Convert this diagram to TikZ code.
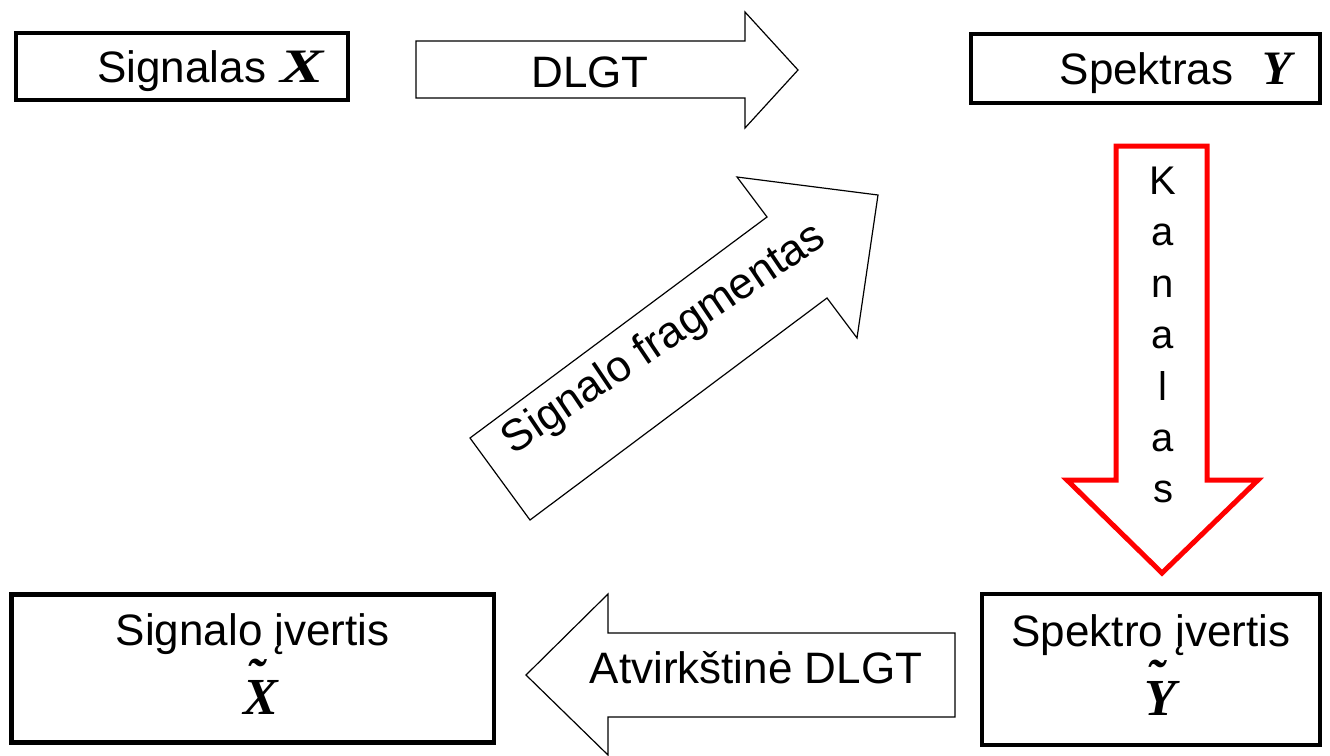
\documentclass[tikz,border=0pt]{standalone}
\usepackage{fontspec}
\setmainfont{Liberation Sans}
\newfontfamily\varfont{Liberation Serif}
\usepackage{graphicx}
\usepackage{tikz}

\newcommand\varletter[1]{{\varfont\bfseries\itshape #1}}
\newcommand\tildeletter[1]{\ooalign{#1\cr\hidewidth\kern-0.2em\raisebox{0.38em}{\char"02DC}\hidewidth\cr}}

\begin{document}
\begin{tikzpicture}[
        x=0.5pt, y=-0.5pt,
        block/.style={rectangle, draw, line width=2.4pt, inner sep=0pt, font=\fontsize{22}{34.5}\selectfont},
        block_arrow/.style={draw, line width=0.6pt, fill=white, line join=miter},
        channel_arrow/.style={draw=red, line width=2.5pt, fill=white, line join=miter},
        arrow_text/.style={inner sep=0pt, font=\fontsize{22}{26}\selectfont}
    ]
    \useasboundingbox (0,0) rectangle (1330,756);

    % Top row
    \node[block, minimum width=166pt, minimum height=33.5pt, text width=142pt, text height=15.8pt, text depth=0pt, align=right, inner xsep=12pt] (signal) at (182,66.5) {Signalas\ {\fontsize{24}{24}\selectfont\varletter{\scalebox{1.35}[1]{X}}}};
    \node[block, minimum width=174.5pt, minimum height=34.5pt, text width=146.5pt, text height=15.8pt, text depth=0pt, align=right, inner xsep=14pt] (spectrum) at (1145.5,68.5) {Spektras\ \ {\fontsize{24}{24}\selectfont\varletter{Y}}};

    % Bottom row
    \node[block, minimum width=241.25pt, minimum height=74pt, align=center] (signal_est) at (252.75,668.5) {Signalo įvertis\\ \kern8pt{\fontsize{26}{26}\selectfont\varletter{\tildeletter{X}}}\rule[-4.75pt]{0pt}{0pt}};
    \node[block, minimum width=169pt, minimum height=75.5pt, align=center] (spectrum_est) at (1151,669.5) {Spektro įvertis\\ \kern9pt{\fontsize{26}{26}\selectfont\varletter{\tildeletter{Y}}}\rule[-4.75pt]{0pt}{0pt}};

    % DLGT
    \draw[block_arrow] (416,41) -- (745,41) -- (745,12) -- (798,70) -- (745,128) -- (745,98) -- (416,98) -- cycle;
    \node[arrow_text, anchor=base] (dlgt) at (590,87) {DLGT};

    % Channel
    \draw[channel_arrow] (1116,146) -- (1207,146) -- (1207,480) -- (1258,480) -- (1162,573) -- (1067,480) -- (1116,480) -- cycle;
    \node[arrow_text, font=\fontsize{20}{25.7}\selectfont, align=center, anchor=north] (channel) at (1163,166.5) {K\\a\\n\\a\\l\\a\\s};

    % Inverse DLGT
    \draw[block_arrow] (955,633) -- (608,633) -- (608,594) -- (526,675) -- (608,755) -- (608,717) -- (955,717) -- cycle;
    \node[arrow_text, anchor=base] (inverse) at (756,683) {Atvirkštinė DLGT};

    % Signal fragment
    \draw[block_arrow] (470,438) -- (767,217) -- (737,177) -- (878,195) -- (857,338) -- (827,298) -- (530,520) -- cycle;
    \node[arrow_text, anchor=base, rotate=34] (fragment) at (671,349) {Signalo fragmentas};

\end{tikzpicture}
\end{document}
